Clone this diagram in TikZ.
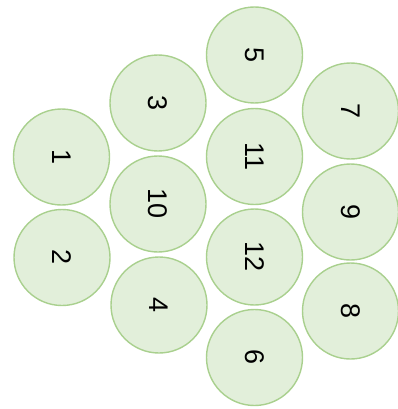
\documentclass[tikz,border=0pt]{standalone}
\usepackage{fontspec}
\setmainfont{Liberation Sans}
\definecolor{cfill}{HTML}{E2EFDA}
\definecolor{cline}{HTML}{A9D08E}
\begin{document}
\begin{tikzpicture}[x=1pt,y=-1pt,
  cell/.style={circle,draw=cline,fill=cfill,line width=1.4pt,minimum size=96pt,inner sep=0pt,
    font=\fontsize{27}{27}\selectfont,rotate=-90}]
\useasboundingbox (0,0) rectangle (398,409);
\node[cell] (n1) at (61.5,157) {1};
\node[cell] (n2) at (62,257.5) {2};
\node[cell] (n3) at (158,103) {3};
\node[cell] (n10) at (158,204) {10};
\node[cell] (n4) at (159,305) {4};
\node[cell] (n5) at (254.5,55) {5};
\node[cell] (n11) at (254.5,156.5) {11};
\node[cell] (n12) at (254.5,257) {12};
\node[cell] (n6) at (254.5,357.5) {6};
\node[cell] (n7) at (350.5,111) {7};
\node[cell] (n9) at (350.5,212) {9};
\node[cell] (n8) at (350.5,311) {8};
\end{tikzpicture}
\end{document}
